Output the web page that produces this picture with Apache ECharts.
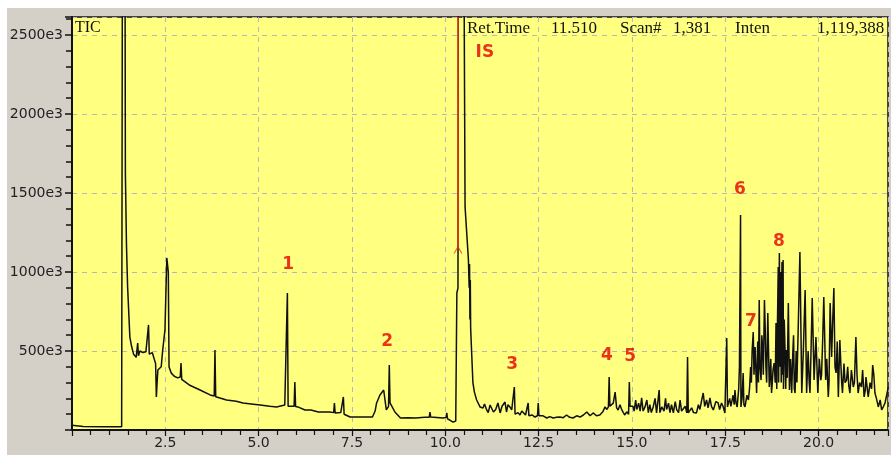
<!DOCTYPE html>
<html>
<head>
<meta charset="utf-8">
<script src="https://cdn.jsdelivr.net/npm/echarts@6/dist/echarts.min.js"></script>
<style>
html,body{margin:0;padding:0;background:#fff;}
#chart{width:891px;height:455px;}
</style>
</head>
<body>
<div id="chart"></div>
<script>
// Retention time (min) and TIC intensity (x1e3 counts), by region
const timeSolvent = [0.00,0.30,0.80,1.33,1.35,1.42,1.43,1.46,1.49,1.55,1.60,1.65,1.72,1.74,1.76,1.78,1.82,1.90,1.98,2.03,
  2.05,2.07,2.15,2.24,2.26,2.28,2.30,2.39,2.43,2.49,2.53,2.54,2.58,2.60,2.66,2.74,2.83,2.90,2.92,2.94,
  2.98,3.14,3.43,3.70,3.81,3.83,3.85,4.14,4.40,4.58,4.80,5.04];
const ticSolvent  = [30,22,20,20,3000,3000,1627,1165,905,588,525,480,460,470,550,470,500,490,495,495,
  665,480,490,420,209,300,380,400,506,633,1000,1089,1000,399,360,340,330,335,424,320,
  316,285,253,222,215,506,210,190,182,171,165,158];

const timeEarly = [5.30,5.48,5.70,5.75,5.77,5.79,5.83,5.95,5.97,5.99,6.05,6.24,6.40,6.60,6.90,7.01,7.03,7.05,7.09,7.20,
  7.25,7.27,7.29,7.33,7.45,7.80,8.05,8.12,8.16,8.25,8.35,8.42,8.48,8.50,8.52,8.57,8.65,8.80,9.00,9.20,
  9.45,9.57,9.59,9.61,9.65,9.94,10.02,10.04,10.06,10.12,10.21,10.28,10.30];
const ticEarly  = [150,146,158,155,867,150,150,150,304,148,146,127,127,114,114,110,171,108,108,110,
  105,209,100,100,82,82,82,120,171,222,253,127,150,411,171,150,114,76,78,76,
  80,80,114,82,82,76,80,108,70,63,50,57,60];

const timeIS = [10.31,10.34,10.35,10.50,10.53,10.58,10.62,10.64,10.65,10.66,10.67,10.68,10.70,10.74,10.78,10.84];
const ticIS  = [867,900,3000,3000,1412,1400,1076,900,1050,700,950,640,525,300,240,190];

const timeMid = [
  10.93,11.01,11.05,11.11,11.15,11.20,11.24,11.29,11.35,11.41,
  11.47,11.52,11.60,11.64,11.68,11.73,11.78,11.83,11.85,11.87,
  11.95,12.00,12.05,12.09,12.15,12.20,12.22,12.24,12.27,12.33,
  12.40,12.47,12.49,12.51,12.54,12.62,12.72,12.80,12.89,12.98,
  13.07,13.16,13.25,13.33,13.42,13.52,13.61,13.70,13.79,13.88,
  13.96,14.05,14.14,14.22,14.28,14.33,14.37,14.39,14.41,14.46,
  14.50,14.55,14.59,14.63,14.68,14.73,14.77,14.81,14.86,14.91,
  14.93,14.95,14.99,15.03,15.06,15.10,15.13,15.18,15.22,15.26,
  15.30,15.35,15.40,15.44,15.48,15.52,15.57,15.62,15.66,15.71,
  15.73,15.75,15.80,15.86,15.90,15.93,15.98,16.02,16.06,16.11,
  16.16,16.20,16.25,16.29,16.33,16.38,16.43,16.47,16.49,16.51,
  16.55,16.60,16.65,16.73,16.78,16.82,16.87,16.91,16.95,17.00,
  17.04,17.09,17.13,17.18,17.25,17.31,17.35,17.40,17.44,17.49];
const ticMid = [
  146,139,165,127,110,158,150,114,130,171,
  108,150,177,114,160,146,127,120,272,100,
  110,95,120,114,95,100,171,90,82,95,
  82,90,171,90,82,90,76,85,76,80,
  82,78,95,80,76,90,82,95,114,90,
  108,90,95,115,146,130,146,335,150,146,
  170,240,140,127,160,127,110,95,115,100,
  304,150,146,150,120,190,130,170,120,203,
  120,146,190,110,160,110,146,200,108,110,
  253,110,146,120,200,130,170,110,160,108,
  180,127,110,190,120,108,150,108,462,108,
  108,140,110,108,160,130,190,234,150,190,
  140,203,150,127,180,171,130,171,150,108];

const timeLate = [
  17.52,17.54,17.56,17.62,17.65,17.67,17.71,17.74,17.76,17.79,
  17.82,17.86,17.88,17.91,17.92,17.95,17.98,18.00,18.03,18.08,
  18.12,18.15,18.18,18.20,18.22,18.25,18.27,18.30,18.34,18.37,
  18.39,18.41,18.43,18.46,18.48,18.50,18.52,18.55,18.57,18.59,
  18.61,18.64,18.66,18.68,18.70,18.72,18.74,18.76,18.78,18.81,
  18.84,18.86,18.88,18.90,18.92,18.93,18.95,18.97,18.98,19.00,
  19.02,19.03,19.05,19.06,19.08,19.10,19.12,19.14,19.16,19.19,
  19.22,19.25,19.28,19.31,19.33,19.35,19.37,19.40,19.42,19.46,
  19.50,19.55,19.59,19.64,19.68,19.72,19.75,19.77,19.80,19.83,
  19.88,19.93,19.98,20.02,20.06,20.08,20.11,20.14,20.19,20.22,
  20.26,20.28,20.31,20.35,20.38,20.41,20.44,20.47,20.50,20.53,
  20.57,20.60,20.62,20.64,20.68,20.71,20.75,20.78,20.81,20.84,
  20.88,20.93,20.96,21.00,21.03,21.06,21.10,21.15,21.18,21.22,
  21.25,21.27,21.33,21.38,21.42,21.45,21.48,21.51,21.55,21.60,
  21.65,21.69,21.74,21.78,21.87];
const ticLate = [
  108,582,146,200,150,158,220,160,253,170,
  146,260,399,1361,146,200,361,160,146,220,
  190,260,399,300,500,620,350,525,234,560,
  300,823,400,316,600,525,350,823,650,399,
  300,741,500,272,350,450,234,300,380,424,
  300,677,260,700,1032,300,1120,400,1000,300,
  1063,350,1076,260,700,525,260,506,330,804,
  253,450,234,487,600,260,234,500,300,696,
  1127,234,487,886,234,500,300,234,520,835,
  316,589,234,450,316,350,570,842,316,450,
  209,300,804,462,700,899,400,361,560,209,
  570,400,300,234,420,300,316,400,280,234,
  380,272,300,589,350,234,300,272,380,209,
  250,335,209,300,260,411,350,234,200,146,
  190,127,150,171,272];

// Peak annotations
const annoText  = ['1','2','3','4','5','6','7','8','IS'];
const annoTime  = [5.79, 8.44, 11.79, 14.33, 14.95, 17.89, 18.19, 18.94, 11.06];
const annoValue = [1044, 557, 411, 468, 462, 1519, 684, 1190, 2386];
// Cursor
const cursorTime = 10.34;
const cursorFrom = 2614;
const cursorTo = 1165;
// Header texts
const headerTexts = ['Ret.Time','11.510','Scan#','1,381','Inten','1,119,388'];
const yMax = 2614, xMax = 21.86;

const allTime = [].concat(timeSolvent, timeEarly, timeIS, timeMid, timeLate);
const allTic  = [].concat(ticSolvent, ticEarly, ticIS, ticMid, ticLate);
const tic = allTime.map((t,i)=>[t, allTic[i]]);
const annos = annoText.map((s,i)=>({name:s, value:[annoTime[i], annoValue[i]]}));

const chart = echarts.init(document.getElementById('chart'), null, {renderer:'canvas'});
const headerX = [467,551,620,673,735,817];
const serif = '"Liberation Serif","Times New Roman",serif';
const sans = '"DejaVu Sans",Verdana,sans-serif';
const red = '#e60000';

chart.setOption({
  animation:false,
  backgroundColor:'#d4d0c8',
  grid:{left:72, top:17, right:3, bottom:25, show:true, backgroundColor:'#ffff80',
        borderColor:'#111', borderWidth:1.5, containLabel:false, outerBoundsMode:'none'},
  xAxis:{
    type:'value', min:0, max:xMax, interval:2.5,
    axisLine:{show:true, onZero:false, lineStyle:{color:'#111', width:2}},
    axisTick:{show:true, length:6, lineStyle:{color:'#111', width:1.2}},
    minorTick:{show:true, splitNumber:5, length:5, lineStyle:{color:'#111', width:1.2}},
    axisLabel:{margin:6, color:'#222', fontSize:14, fontFamily:sans,
      formatter:v=> (Math.abs(v/2.5-Math.round(v/2.5))<1e-6 && v>0) ? v.toFixed(1) : ''},
    splitLine:{show:true, lineStyle:{color:'#b8b8b8', type:[5,5], width:1}}
  },
  yAxis:{
    type:'value', min:0, max:yMax, interval:500,
    axisLine:{show:true, onZero:false, lineStyle:{color:'#111', width:2}},
    axisTick:{show:true, length:7, lineStyle:{color:'#111', width:1.5}},
    minorTick:{show:true, splitNumber:5, length:6, lineStyle:{color:'#111', width:1.5}},
    axisLabel:{margin:9, color:'#222', fontSize:14, fontFamily:sans,
      formatter:v=> (v>0 && v%500===0) ? v+'e3' : ''},
    splitLine:{show:true, lineStyle:{color:'#b8b8b8', type:[5,5], width:1}}
  },
  series:[
    {type:'line', data:tic, showSymbol:false, clip:true,
     lineStyle:{color:'#111', width:1.5}, z:3,
     markLine:{silent:true, symbol:['none','none'], label:{show:false},
       lineStyle:{color:'#f03a1e', width:1.5, type:'solid'},
       data:[[{coord:[cursorTime,cursorFrom]},{coord:[cursorTime,cursorTo]}]]}},
    {type:'scatter', data:[[cursorTime,cursorTo-22]], symbol:'path://M0,10 L5,0 L10,10 L8.6,10 L5,3 L1.4,10 Z',
     symbolSize:[9,8], itemStyle:{color:'#f03a1e'}, z:5},
    {type:'scatter', data:annos, symbolSize:0, z:6,
     label:{show:true, position:'inside', formatter:p=>p.name, color:red,
            fontSize:17, fontWeight:'bold', fontFamily:sans}}
  ],
  graphic:[
    {type:'rect', left:0, top:0, shape:{width:891,height:8}, style:{fill:'#ffffff'}, z:-1},
    {type:'rect', left:0, top:0, shape:{width:7,height:455}, style:{fill:'#ffffff'}, z:-1},
    {type:'text', left:75, top:20, style:{text:'TIC', font:'16px '+serif, fill:'#111'}, z:10},
    ...headerTexts.map((s,i)=>({type:'text', left:headerX[i], top:20,
        style:{text:s, font:'17px '+serif, fill:'#111'}, z:10}))
  ]
});
</script>
</body>
</html>
